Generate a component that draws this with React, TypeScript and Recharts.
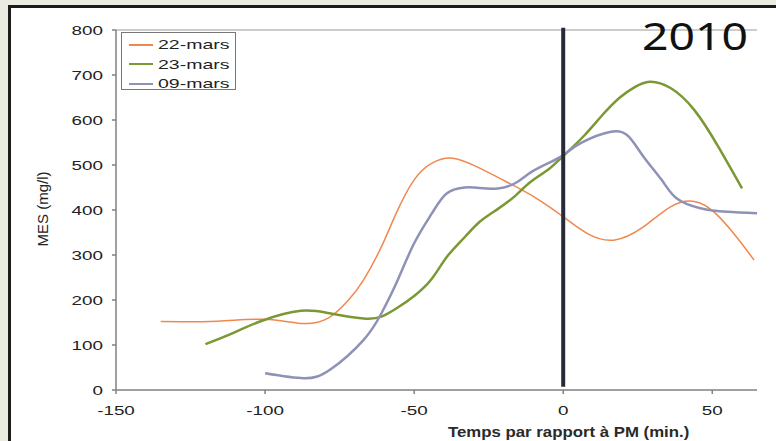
import { LineChart, Line, XAxis, YAxis, ReferenceLine, Legend } from 'recharts'

// minutes relative to PM, and MES (mg/l)
const t22 = [-135, -116, -100, -88, -79, -72, -67, -61, -56, -50, -44, -37, -28, -18, -9, 0, 8, 17, 27, 36, 44, 51, 58, 64]
const mes22 = [152, 153, 157, 148, 159, 200, 244, 318, 393, 467, 504, 515, 493, 459, 426, 385, 348, 333, 363, 407, 419, 393, 341, 289]

const t23 = [-120, -111, -101, -88, -78, -67, -61, -56, -50, -44, -39, -33, -28, -22, -16, -11, -5, 0, 7, 13, 19, 24, 29, 36, 44, 52, 60]
const mes23 = [102, 126, 154, 176, 170, 159, 163, 181, 209, 248, 296, 340, 374, 402, 432, 462, 490, 520, 565, 610, 650, 673, 685, 671, 622, 541, 448]

const t09 = [-100, -87, -78, -67, -61, -56, -50, -44, -39, -33, -28, -22, -16, -11, -5, 0, 6, 16, 22, 27, 33, 38, 46, 55, 65]
const mes09 = [37, 26, 46, 111, 170, 237, 326, 393, 437, 450, 449, 448, 460, 483, 504, 522, 549, 574, 563, 518, 467, 426, 404, 396, 393]

const xTicks = [-150, -100, -50, 0, 50]
const yTicks = [0, 100, 200, 300, 400, 500, 600, 700, 800]

const series = [
  { name: '22-mars', t: t22, v: mes22, color: '#f0884e', width: 1.5 },
  { name: '23-mars', t: t23, v: mes23, color: '#7a9833', width: 2.5 },
  { name: '09-mars', t: t09, v: mes09, color: '#8e92b6', width: 2.5 },
]

const toRows = (t: number[], v: number[]) => t.map((x, i) => ({ t: x, v: v[i] }))

const FONT = '"Liberation Sans", Arial, sans-serif'

const YTick = ({ x, y, payload }: any) => (
  <text transform={`translate(${x - 1},${y + 4.5}) scale(1.45,1)`} textAnchor="end" fontSize={13} fill="#222" fontFamily={FONT}>
    {payload.value}
  </text>
)

const XTick = ({ x, y, payload }: any) => (
  <text transform={`translate(${x},${y + 15}) scale(1.45,1)`} textAnchor="middle" fontSize={13} fill="#222" fontFamily={FONT}>
    {payload.value}
  </text>
)

// legend in the series' own order, as in the original
const LegendBox = () => (
  <div style={{ background: '#fff', border: '1px solid #777', width: 115, height: 58, boxSizing: 'border-box', padding: '2px 0 0 7px', fontFamily: FONT }}>
    {series.map(s => (
      <div key={s.name} style={{ display: 'flex', alignItems: 'center', height: 19.5 }}>
        <span style={{ display: 'inline-block', width: 24, height: 2, background: s.color }} />
        <span style={{ display: 'inline-block', marginLeft: 5, fontSize: 13, color: '#222', transform: 'scaleX(1.5)', transformOrigin: 'left center' }}>
          {s.name}
        </span>
      </div>
    ))}
  </div>
)

export default function App() {
  return (
    <div style={{ position: 'absolute', left: 0, top: 0, width: 776, height: 441, background: '#ecebe1', overflow: 'hidden' }}>
      <div style={{ position: 'absolute', left: 8, top: 5, width: 790, height: 460, background: '#fff', border: '3px solid #1c1c1c' }} />
      <div style={{ position: 'absolute', left: 0, top: 0 }}>
        <LineChart width={776} height={441} margin={{ top: 30, right: 19, left: 56, bottom: 21 }}>
          <XAxis
            dataKey="t"
            type="number"
            domain={[-150, 65]}
            ticks={xTicks}
            allowDataOverflow
            stroke="#808080"
            strokeWidth={1.5}
            tickSize={4}
            tickMargin={6}
            height={30}
            tick={<XTick />}
            label={{
              content: () => (
                <text transform="translate(448,437) scale(1.2,1)" fontSize={14} fontWeight="bold" fill="#2a2a2a" fontFamily={FONT}>
                  Temps par rapport à PM (min.)
                </text>
              ),
            }}
          />
          <YAxis
            type="number"
            domain={[0, 800]}
            ticks={yTicks}
            stroke="#808080"
            strokeWidth={1.5}
            tickSize={4}
            tickMargin={8}
            width={60}
            tick={<YTick />}
            label={{
              content: () => (
                <text transform="translate(48,209) rotate(-90)" textAnchor="middle" fontSize={15} fill="#222" fontFamily={FONT}>
                  MES (mg/l)
                </text>
              ),
            }}
          />
          <ReferenceLine y={800} stroke="#9a9a9a" strokeWidth={1} />
          {series.map(s => (
            <Line
              key={s.name}
              data={toRows(s.t, s.v)}
              dataKey="v"
              name={s.name}
              type="natural"
              stroke={s.color}
              strokeWidth={s.width}
              dot={false}
              activeDot={false}
              isAnimationActive={false}
            />
          ))}
          <ReferenceLine
            segment={[{ x: 0, y: 7 }, { x: 0, y: 805 }]}
            stroke="#272a38"
            strokeWidth={4}
            ifOverflow="visible"
          />
          <Legend
            layout="vertical"
            verticalAlign="middle"
            align="center"
            content={<LegendBox />}
            wrapperStyle={{ position: 'absolute', left: 121, top: 32, width: 115, height: 58 }}
          />
        </LineChart>
      </div>
      <div style={{ position: 'absolute', left: 642, top: 12, fontFamily: '"Noto Sans", sans-serif', fontSize: 38, lineHeight: '46px', color: '#111', transform: 'scaleX(1.22)', transformOrigin: 'left top' }}>
        2010
      </div>
    </div>
  )
}
